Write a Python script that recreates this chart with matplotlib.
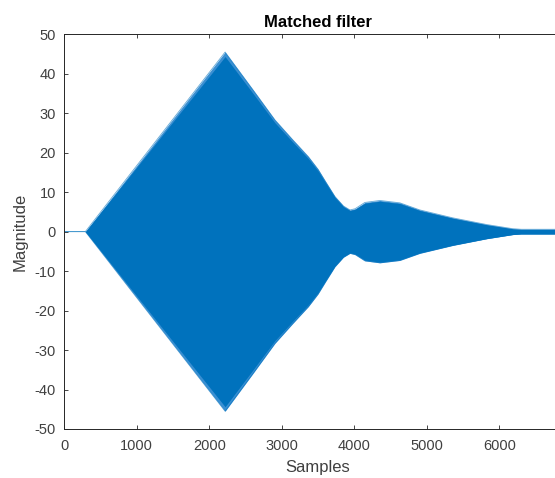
import matplotlib
matplotlib.use("Agg")
import matplotlib.pyplot as plt
import numpy as np

# Envelope of the matched-filter output
env_x = [0, 290, 2218, 2600, 2906, 3150, 3366, 3500, 3600, 3733, 3850, 3940, 4010, 4146, 4353, 4628, 4904, 5358, 5826, 6185, 6300, 6800]
env_y = [0, 0, 45.5, 36.0, 28.3, 23.3, 19.0, 15.8, 12.8, 8.9, 6.5, 5.5, 5.8, 7.4, 7.9, 7.3, 5.5, 3.5, 1.8, 0.75, 0.6, 0.6]

x_ticks = [0, 1000, 2000, 3000, 4000, 5000, 6000]
y_ticks = [-50, -40, -30, -20, -10, 0, 10, 20, 30, 40, 50]

plt.rcParams['font.family'] = ['Liberation Sans', 'DejaVu Sans']
plt.rcParams['axes.unicode_minus'] = False
txt = '#262626'
lbl = '#404040'
blue = '#0072BD'

fig = plt.figure(figsize=(5.55, 4.78), dpi=100)
ax = fig.add_axes([64.3/555, 49/478, 507.5/555, 394.7/478])

ex = np.array(env_x, dtype=float)
ey = np.array(env_y, dtype=float)
ax.fill_between(ex, -ey, ey, color='#3a8fd2', lw=0)
ax.fill_between(ex, -ey*0.975, ey*0.975, color=blue, lw=0)
ax.plot(ex, ey, color=blue, lw=0.6, alpha=0.6)
ax.plot(ex, -ey, color=blue, lw=0.6, alpha=0.6)

ax.set_xlim(0, 7000)
ax.set_ylim(-50, 50)
ax.set_xticks(x_ticks)
ax.set_yticks(y_ticks)
ax.tick_params(direction='in', length=3, width=0.6, colors=txt, labelcolor=lbl,
               labelsize=10.5, top=True, right=True)
ax.tick_params(axis='x', pad=7)
ax.tick_params(axis='y', pad=6)
for s in ax.spines.values():
    s.set_color(txt)
    s.set_linewidth(0.7)

ax.set_title('Matched filter', fontsize=12, fontweight='bold', color='#000000', pad=5)
ax.set_xlabel('Samples', fontsize=12, color=lbl, labelpad=5)
ax.set_ylabel('Magnitude', fontsize=12, color=lbl, labelpad=5)

fig.savefig('out.png', dpi=100)
